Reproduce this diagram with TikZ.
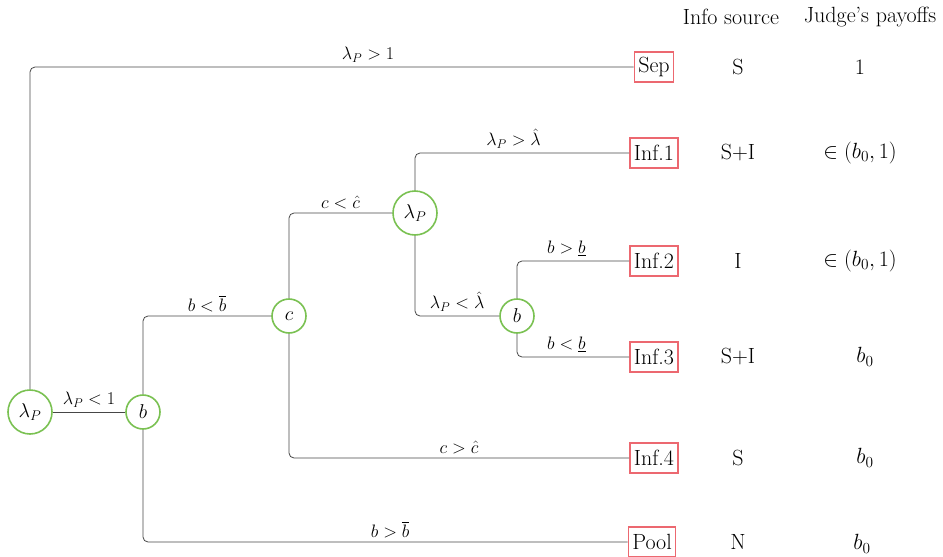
\RequirePackage{fix-cm}
\documentclass[tikz,border=0pt]{standalone}
\usepackage{amsmath}
\definecolor{ngreen}{RGB}{122,193,82}
\definecolor{nred}{RGB}{236,104,112}
\definecolor{eline}{RGB}{70,70,70}
\begin{document}
\begin{tikzpicture}[x=1pt,y=-1pt,
  dec/.style={circle,draw=ngreen,line width=1.6pt,inner sep=0pt,fill=white,font=\fontsize{20}{22}\selectfont},
  bigdec/.style={dec,minimum size=44pt},
  smalldec/.style={dec,minimum size=34pt},
  leaf/.style={rectangle,draw=nred,line width=1.4pt,inner xsep=4pt,inner ysep=3pt,minimum height=30pt,fill=white,font=\fontsize{22}{24}\selectfont},
  col/.style={font=\fontsize{22}{24}\selectfont},
  edge/.style={draw=eline,line width=0.8pt,rounded corners=5pt},
  lab/.style={font=\fontsize{18}{20}\selectfont,above,inner sep=4pt}]
\useasboundingbox (0,0) rectangle (943,557);
% decision nodes
\node[bigdec] (r) at (30,412) {$\lambda_P$};
\node[smalldec] (b1) at (143,412) {$b$};
\node[smalldec] (c) at (289,316) {$c$};
\node[bigdec] (l2) at (415,213) {$\lambda_P$};
\node[smalldec] (b2) at (517,316) {$b$};
% leaves
\node[leaf] (sep) at (654,67) {Sep};
\node[leaf] (i1) at (654,153) {Inf.1};
\node[leaf] (i2) at (654,261) {Inf.2};
\node[leaf] (i3) at (654,357) {Inf.3};
\node[leaf] (i4) at (654,458) {Inf.4};
\node[leaf] (pool) at (652,542) {Pool};
% columns
\node[col] (h1) at (731,17) {Info source};
\node[col] (h2) at (870,17) {Judge's payoffs};
\node[col] (s1) at (738,67) {S};
\node[col] (s2) at (738,153) {S+I};
\node[col] (s3) at (738,261) {I};
\node[col] (s4) at (738,357) {S+I};
\node[col] (s5) at (738,458) {S};
\node[col] (s6) at (738,542) {N};
\node[col] (p1) at (860,67) {$1$};
\node[col] (p2) at (860,153) {$\in(b_0,1)$};
\node[col] (p3) at (860,261) {$\in(b_0,1)$};
\node[col] (p4) at (865,357) {$b_0$};
\node[col] (p5) at (865,458) {$b_0$};
\node[col] (p6) at (862,544) {$b_0$};
% edges
\draw[edge] (r.north) |- node[lab,pos=0.78] {$\lambda_P>1$} (sep.west);
\draw[edge] (r.east) -- node[lab] {$\lambda_P<1$} (b1.west);
\draw[edge] (b1.north) |- node[lab,pos=0.75] {$b<\overline{b}$} (c.west);
\draw[edge] (b1.south) |- node[lab,pos=0.755] {$b>\overline{b}$} (pool.west);
\draw[edge] (c.north) |- node[lab,pos=0.75] {$c<\hat{c}$} (l2.west);
\draw[edge] (c.south) |- node[lab,pos=0.75] {$c>\hat{c}$} (i4.west);
\draw[edge] (l2.north) |- node[lab,pos=0.73] {$\lambda_P>\hat{\lambda}$} (i1.west);
\draw[edge] (l2.south) |- node[lab,pos=0.75] {$\lambda_P<\hat{\lambda}$} (b2.west);
\draw[edge] (b2.north) |- node[lab,pos=0.72] {$b>\underline{b}$} (i2.west);
\draw[edge] (b2.south) |- node[lab,pos=0.72] {$b<\underline{b}$} (i3.west);
\end{tikzpicture}
\end{document}
